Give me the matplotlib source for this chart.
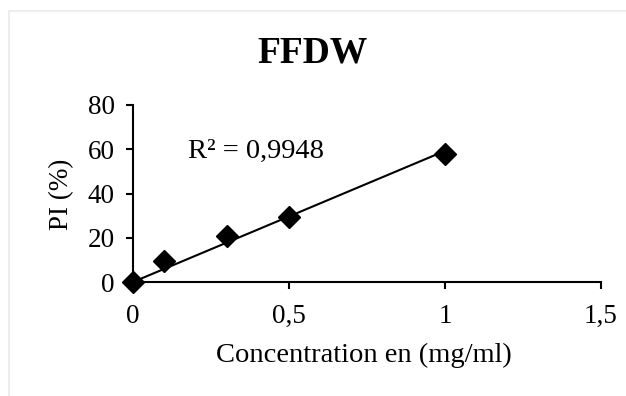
import matplotlib
matplotlib.use("Agg")
import matplotlib.pyplot as plt
from matplotlib.patches import Rectangle
from matplotlib.ticker import FuncFormatter
import numpy as np

conc = [0, 0.1, 0.3, 0.5, 1.0]
pi_vals = [0, 9.5, 21, 29.5, 58]
pi_err = [0, 0, 0, 0, 2.0]
r2_text = "R² = 0,9948"
title = "FFDW"
xlabel = "Concentration en (mg/ml)"
ylabel = "PI (%)"
xticks = [0, 0.5, 1, 1.5]
yticks = [0, 20, 40, 60, 80]

plt.rcParams['font.family'] = ['Liberation Serif', 'DejaVu Serif']

W, H = 626, 396
fig = plt.figure(figsize=(W/100, H/100), dpi=100)
fig.patches.append(Rectangle((9/W, -0.5), 2, 1.5 - 11/H, transform=fig.transFigure,
                             fill=False, edgecolor='#ededed', linewidth=1.5, zorder=0))
ax = fig.add_axes([133/W, (H-282)/H, (601-133)/W, (282-105)/H])

# linear trendline through origin
x_arr = np.array(conc); y_arr = np.array(pi_vals)
slope = (x_arr * y_arr).sum() / (x_arr ** 2).sum()
xl = np.array([0, max(conc)])
ax.plot(xl, slope * xl, color='black', linewidth=1.5, zorder=2, clip_on=False)

ax.errorbar(conc, pi_vals, yerr=pi_err, fmt='none', ecolor='#8c8c8c', elinewidth=1, capsize=3, zorder=3)
ax.plot(conc, pi_vals, linestyle='none', marker='D', markersize=11, color='black', zorder=4, clip_on=False)

ax.set_xlim(0, 1.5)
ax.set_ylim(0, 80)
ax.set_xticks(xticks)
ax.set_yticks(yticks)
ax.xaxis.set_major_formatter(FuncFormatter(lambda v, p: ('%g' % v).replace('.', ',')))
for s in ['top', 'right']:
    ax.spines[s].set_visible(False)
for s in ['left', 'bottom']:
    ax.spines[s].set_linewidth(1.5)
ax.tick_params(axis='both', direction='out', length=5, width=1.5, labelsize=19.5)
ax.tick_params(axis='y', pad=8)
ax.tick_params(axis='x', pad=11)

fsz = 20.5
fig.text(364/W, (H-355)/H, xlabel, fontsize=fsz, ha='center', va='center')
fig.text(62/W, (H-194)/H, ylabel, fontsize=19.5, ha='center', va='center', rotation=90)
fig.text(0.5, (H-53)/H, title, fontsize=27, fontweight='bold', ha='center', va='center')
ax.text(0.176, 58.8, r2_text, fontsize=fsz, ha='left', va='center')

fig.savefig('out.png', dpi=100)
